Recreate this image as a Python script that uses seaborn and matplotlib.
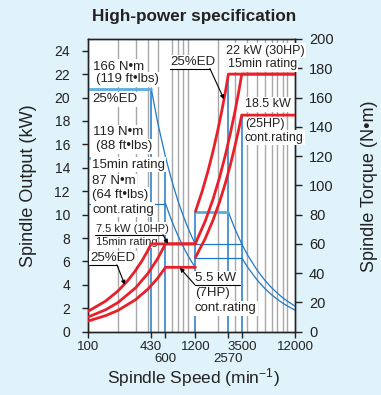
import matplotlib
matplotlib.use("Agg")
import matplotlib.pyplot as plt
import matplotlib.transforms as mtrans
from matplotlib.ticker import NullLocator
import seaborn as sns

# ---------------- data ----------------
speed_ticks = [100, 430, 600, 1200, 2570, 3500, 12000]
speed_tick_labels = ["100", "430", "600", "1200", "2570", "3500", "12000"]
kw_ticks = list(range(0, 25, 2))
nm_ticks = list(range(0, 201, 20))
grid_speeds = [200, 300, 400, 500, 700, 800, 900, 1000, 2000, 3000,
               4000, 5000, 6000, 7000, 8000, 9000, 10000]

# spindle output (kW) - red
low_ed_speed = [100, 150, 200, 250, 300, 350, 400, 430, 1200]
low_ed_kw = [1.74, 2.61, 3.48, 4.35, 5.22, 6.09, 6.95, 7.5, 7.5]
low_15_speed = [100, 150, 200, 300, 400, 500, 600, 1200]
low_15_kw = [1.25, 1.87, 2.49, 3.74, 4.98, 6.23, 7.5, 7.5]
low_cont_speed = [100, 150, 200, 300, 400, 500, 600, 1200]
low_cont_kw = [0.91, 1.37, 1.82, 2.73, 3.64, 4.56, 5.5, 5.5]
high_ed_speed = [1200, 1400, 1600, 1800, 2000, 2200, 2400, 2570, 12000]
high_ed_kw = [10.27, 11.98, 13.69, 15.4, 17.1, 18.8, 20.5, 22, 22]
high_15_speed = [1200, 1500, 1800, 2100, 2400, 2700, 3000, 3300, 3500, 12000]
high_15_kw = [7.54, 9.42, 11.3, 13.2, 15.1, 17.0, 18.85, 20.7, 22, 22]
high_cont_speed = [1200, 1500, 1800, 2100, 2400, 2700, 3000, 3300, 3500, 12000]
high_cont_kw = [6.35, 7.93, 9.52, 11.1, 12.7, 14.3, 15.9, 17.45, 18.5, 18.5]

# spindle torque (N·m) - blue
low_ed_flat_speed = [100, 430]
low_ed_flat_nm = [166, 166]
low_15_flat_speed = [100, 600]
low_15_flat_nm = [119, 119]
low_cont_flat_speed = [100, 600]
low_cont_flat_nm = [87, 87]
low_75_speed = [430, 500, 600, 700, 800, 900, 1000, 1100, 1200]
low_75_nm = [166.6, 143.2, 119.4, 102.3, 89.5, 79.6, 71.6, 65.1, 59.7]
low_55_speed = [600, 700, 800, 900, 1000, 1100, 1200]
low_55_nm = [87.5, 75.0, 65.7, 58.4, 52.5, 47.7, 43.8]
high_ed_flat_speed = [1200, 2570]
high_ed_flat_nm = [81.7, 81.7]
high_15_flat_speed = [1200, 3500]
high_15_flat_nm = [60, 60]
high_cont_flat_speed = [1200, 3500]
high_cont_flat_nm = [50.5, 50.5]
high_22_speed = [2570, 3000, 3500, 4000, 5000, 6000, 7000, 8000, 9000, 10000, 12000]
high_22_nm = [81.7, 70.0, 60.0, 52.5, 42.0, 35.0, 30.0, 26.3, 23.3, 21.0, 17.5]
high_185_speed = [3500, 4000, 5000, 6000, 7000, 8000, 9000, 10000, 12000]
high_185_nm = [50.5, 44.2, 35.3, 29.4, 25.2, 22.1, 19.6, 17.7, 14.7]

drop_speeds = [430, 600, 1200, 2570, 3500]
drop_tops_nm = [166, 119, 81.7, 176, 148]

# ---------------- styling ----------------
sns.set_theme(style="ticks")
plt.rcParams["font.family"] = ["Liberation Sans", "DejaVu Sans"]
plt.rcParams["mathtext.fontset"] = "custom"
plt.rcParams["mathtext.rm"] = "Liberation Sans"
plt.rcParams["mathtext.it"] = "Liberation Sans"

NARROW = ["Liberation Sans Narrow", "Liberation Sans", "DejaVu Sans"]
RED = "#e8202a"
BLUE = "#1f78c6"
LBLUE = "#5aade0"
GRID = "#a8a8a8"
BG = "#e0f2fa"
INK = "#222222"

fig = plt.figure(figsize=(3.81, 3.95), dpi=100, facecolor=BG)
W, H = 381, 395
x0, x1, y0, y1 = 88, 295, 331.7, 39
ax = fig.add_axes([x0 / W, 1 - y0 / H, (x1 - x0) / W, (y0 - y1) / H])
ax.set_xscale("log")
ax2 = ax.twinx()

# layering: ax2 (torque, grid, blue) below, ax (kW, red, text) on top
ax.set_zorder(ax2.get_zorder() + 1)
ax.patch.set_visible(False)
ax2.patch.set_visible(True)
ax2.patch.set_facecolor("white")

# gridlines
ax2.vlines(grid_speeds, 0, 200, color=GRID, lw=1.0, zorder=1)
# drop lines
ax2.vlines(drop_speeds, 0, drop_tops_nm, color=BLUE, lw=1.1, zorder=2)

blue_thick = [(low_ed_flat_speed, low_ed_flat_nm), (low_15_flat_speed, low_15_flat_nm),
              (high_ed_flat_speed, high_ed_flat_nm)]
blue_thin = [(low_cont_flat_speed, low_cont_flat_nm), (low_75_speed, low_75_nm),
             (low_55_speed, low_55_nm), (high_15_flat_speed, high_15_flat_nm),
             (high_cont_flat_speed, high_cont_flat_nm), (high_22_speed, high_22_nm),
             (high_185_speed, high_185_nm)]
for xs, ys in blue_thin:
    sns.lineplot(x=xs, y=ys, ax=ax2, color=BLUE, linewidth=0.9, estimator=None, sort=False, zorder=3)
for xs, ys in blue_thick:
    sns.lineplot(x=xs, y=ys, ax=ax2, color=LBLUE, linewidth=2.0, estimator=None, sort=False, zorder=3)

reds = [(low_ed_speed, low_ed_kw), (low_15_speed, low_15_kw), (low_cont_speed, low_cont_kw),
        (high_ed_speed, high_ed_kw), (high_15_speed, high_15_kw), (high_cont_speed, high_cont_kw)]
for xs, ys in reds:
    sns.lineplot(x=xs, y=ys, ax=ax, color=RED, linewidth=2.0, estimator=None, sort=False, zorder=5)

# ---------------- axes ----------------
ax.set_xlim(100, 12000)
ax.set_ylim(0, 25)
ax2.set_ylim(0, 200)
ax.set_xticks(speed_ticks)
ax.set_xticklabels(speed_tick_labels)
ax.xaxis.set_minor_locator(NullLocator())
ax2.xaxis.set_minor_locator(NullLocator())
ax.set_yticks(kw_ticks)
ax2.set_yticks(nm_ticks)
ax.set_xlabel("")
ax.set_ylabel("")
ax2.set_ylabel("")

for a in (ax, ax2):
    for s in a.spines.values():
        s.set_visible(True)
        s.set_color(INK)
        s.set_linewidth(1.0)

ax.tick_params(axis="y", left=True, right=False, direction="out", length=4, width=1,
               pad=9, labelsize=10, colors=INK)
ax2.tick_params(axis="y", right=True, left=False, direction="out", length=5, width=1,
                pad=5, labelsize=10.5, colors=INK)
ax.tick_params(axis="x", bottom=True, top=False, direction="out", length=4, width=1,
               pad=3, labelsize=9.5, colors=INK)
for i, lbl in enumerate(ax.get_xticklabels()):
    lbl.set_family(NARROW)
    if speed_tick_labels[i] in ("600", "2570"):
        lbl.set_transform(lbl.get_transform() +
                          mtrans.ScaledTranslation(0, -12 / 100, fig.dpi_scale_trans))

# ---------------- texts ----------------
box = dict(facecolor="white", edgecolor="none", pad=1.0)
def t(x, y, s, size=9.5, family=None):
    kw = dict(ha="left", va="center", fontsize=size, color=INK, bbox=box, zorder=4)
    if family:
        kw["family"] = family
    ax.text(x, y, s, **kw)

t(111.3, 22.64, "166 N•m")
t(121.7, 21.57, "(119 ft•lbs)")
t(109.7, 19.85, "25%ED")
t(111.0, 17.03, "119 N•m")
t(120.3, 15.85, "(88 ft•lbs)")
t(109.7, 14.28, "15min rating")
t(109.7, 12.85, "87 N•m")
t(109.7, 11.71, "(64 ft•lbs)")
t(109.7, 10.43, "cont.rating")
t(119.0, 8.80, "7.5 kW (10HP)", size=8, family=NARROW)
t(119.0, 7.69, "15min rating", size=8, family=NARROW)
t(104.7, 6.29, "25%ED")
t(1186, 4.58, "5.5 kW")
t(1186, 3.29, "(7HP)")
t(1186, 2.00, "cont.rating")
t(666, 23.02, "25%ED")
t(2440, 23.99, "22 kW (30HP)", size=9, family=NARROW)
t(2520, 22.85, "15min rating", size=9, family=NARROW)
t(3767, 19.43, "18.5 kW", size=9)
t(3767, 17.71, "(25HP)", size=9)
t(3767, 16.57, "cont.rating", size=9, family=NARROW)

# leader lines with arrows
leaders = [
    ((117.6, 8.29), (566, 8.29), (635, 7.51)),
    ((102, 5.71), (195, 5.71), (235, 4.0)),
    ((3350, 4.0), (1186, 4.0), (837, 5.46)),
    ((667, 22.48), (1676, 22.48), (2323, 19.85)),
]
arrow = dict(arrowstyle="-|>", color="black", lw=0.8, mutation_scale=6, shrinkA=0, shrinkB=0)
for a, b, c in leaders:
    ax.plot([a[0], b[0]], [a[1], b[1]], color="black", lw=0.8, zorder=6)
    ax.annotate("", xy=c, xytext=b, arrowprops=arrow, zorder=6)

# ---------------- titles / labels ----------------
fig.text(194 / W, 1 - 17 / H, "High-power specification", ha="center", va="center",
         fontsize=12.3, fontweight="bold", color=INK)
fig.text(29 / W, 1 - 186 / H, "Spindle Output (kW)", rotation=90, ha="center",
         va="center", fontsize=13, color=INK)
fig.text(370 / W, 1 - 186 / H, "Spindle Torque (N•m)", rotation=90, ha="center",
         va="center", fontsize=13, color=INK)
fig.text(193 / W, 1 - 378 / H, "Spindle Speed (min$^{-1}$)", ha="center", va="center",
         fontsize=12.5, color=INK)

fig.savefig("out.png", dpi=100, facecolor=BG)
